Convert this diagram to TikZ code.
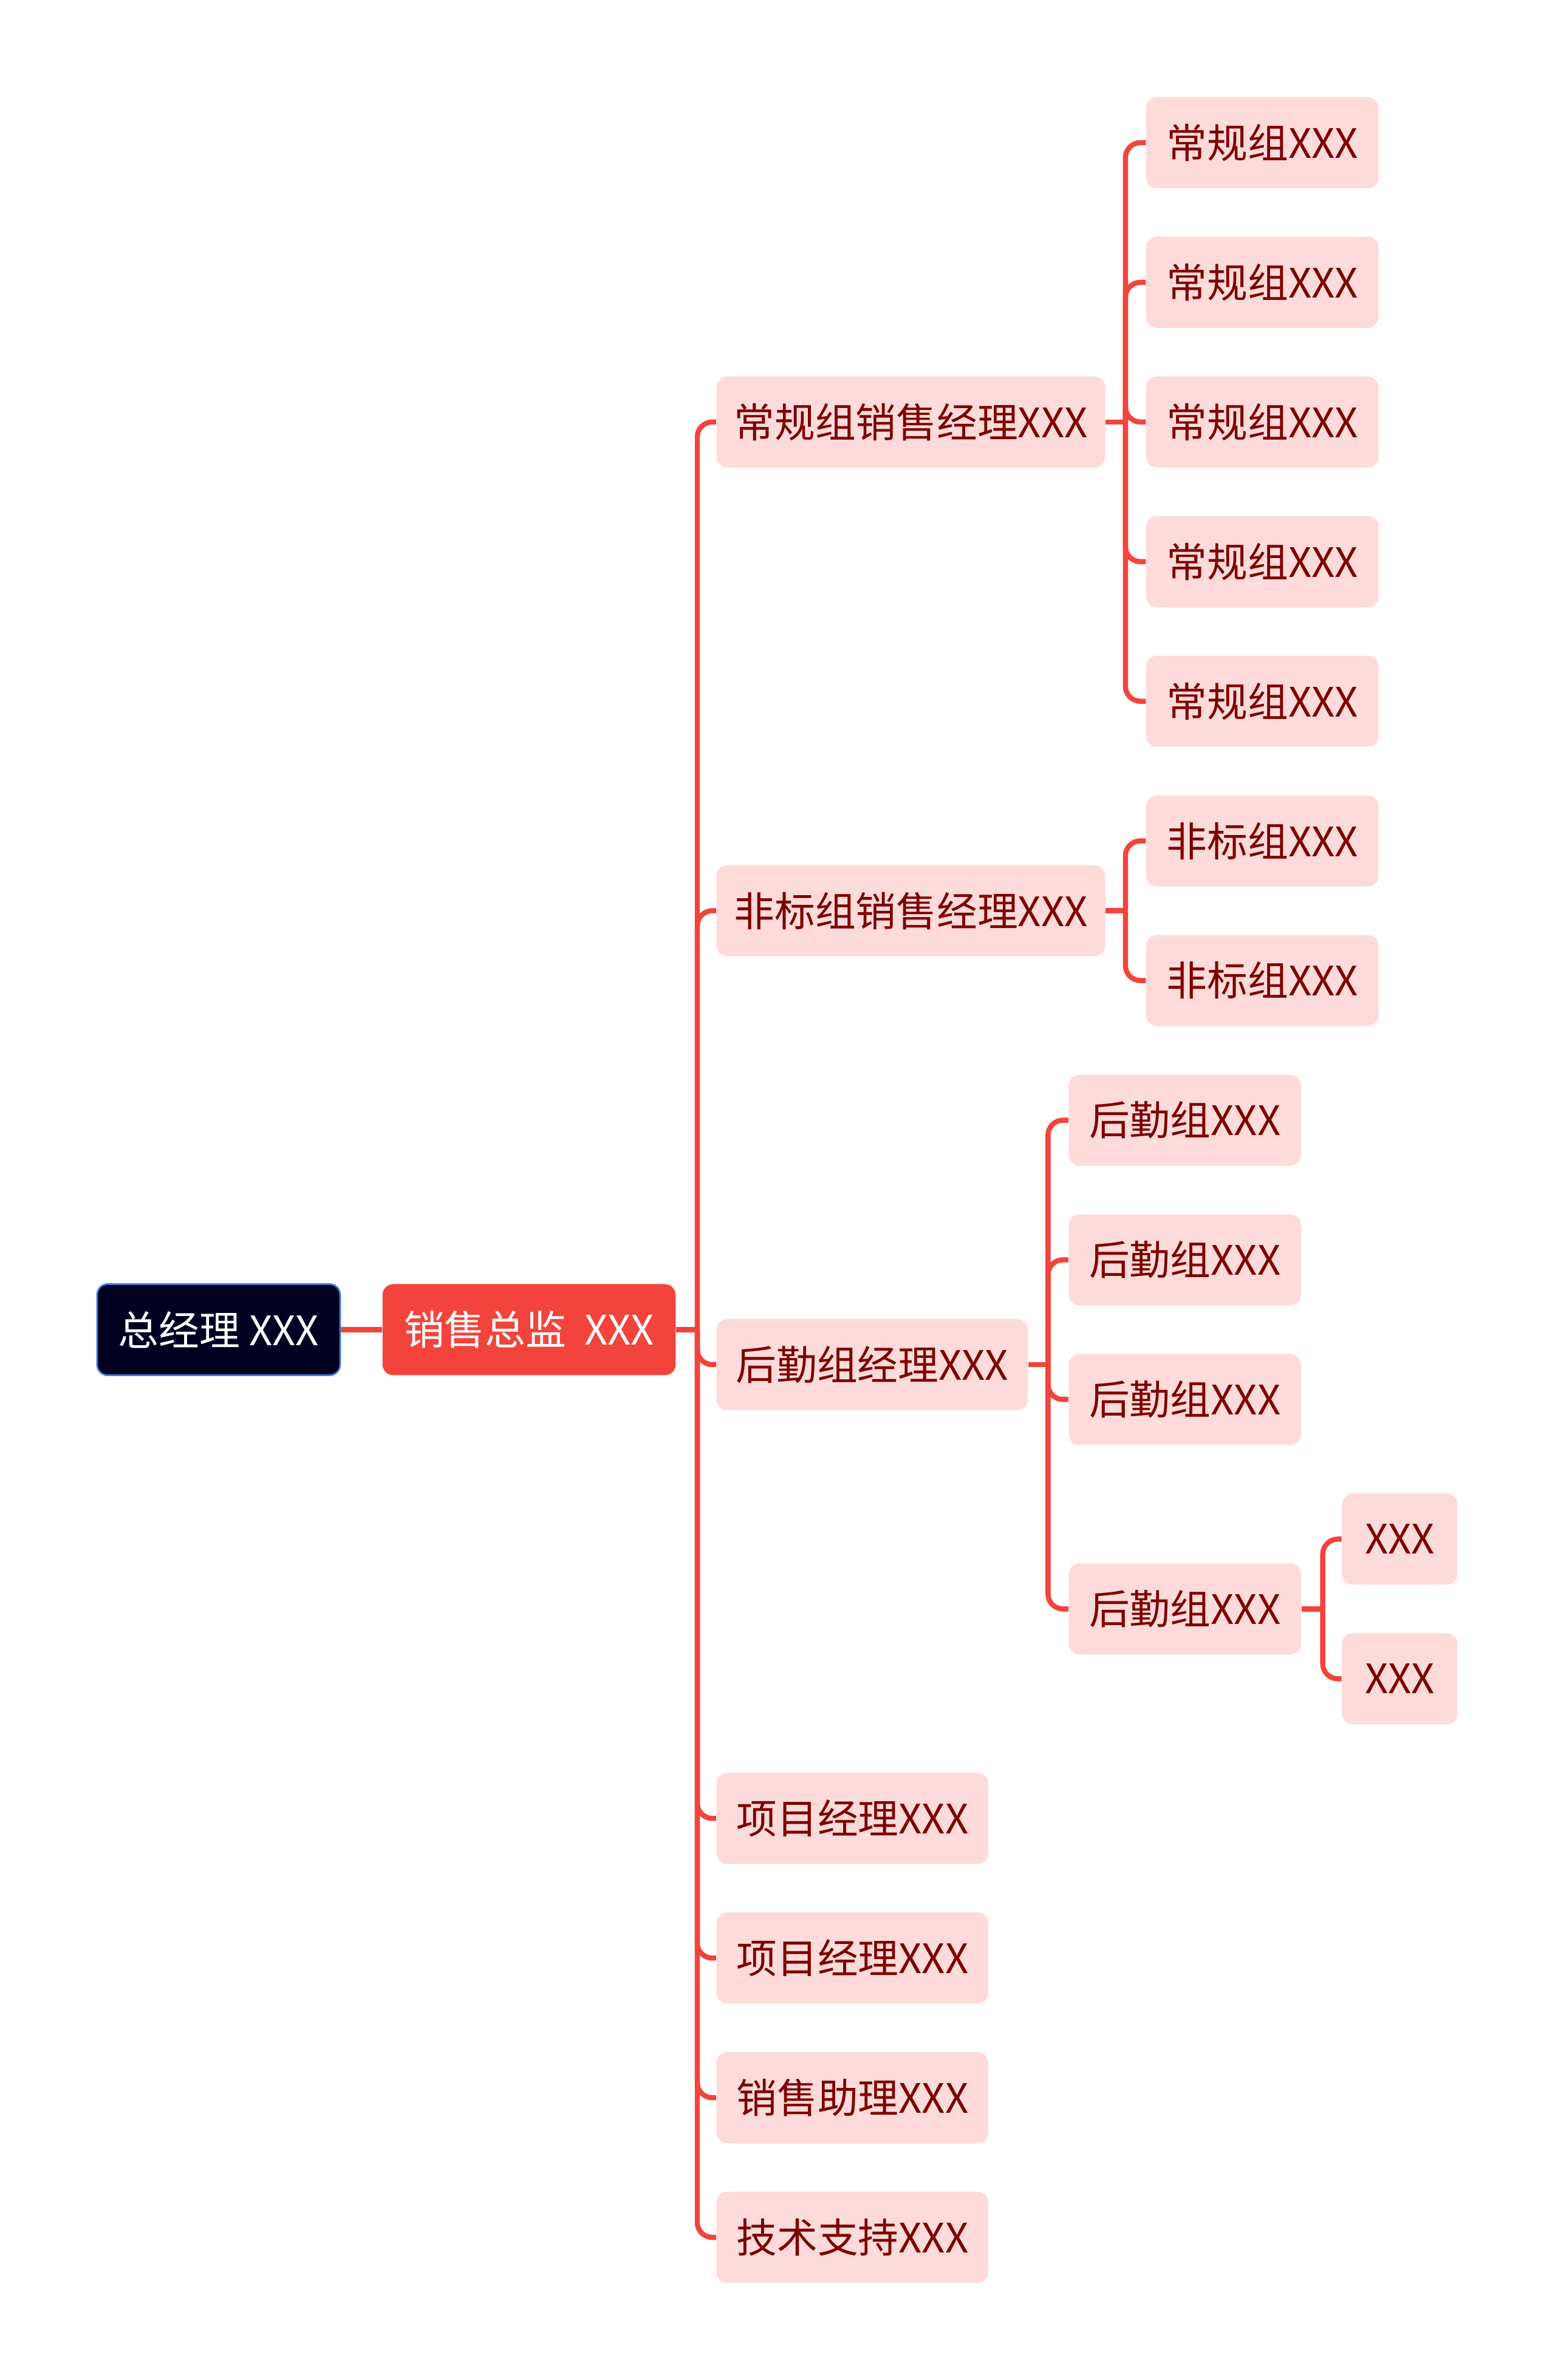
\documentclass[tikz,border=0pt]{standalone}
\usepackage{fontspec}
\newfontfamily\cjk{Noto Sans CJK SC}
\usetikzlibrary{calc}
\definecolor{TreeRed}{HTML}{F2443C}
\definecolor{NavyBox}{HTML}{000020}
\definecolor{NavyEdge}{HTML}{3A7BD8}
\definecolor{SoftPink}{HTML}{FDDBDA}
\definecolor{DeepRed}{HTML}{7D0000}

\begin{document}
\begin{tikzpicture}[x=0.025cm,y=-0.025cm,
  topbox/.style={draw=NavyEdge,line width=0.8pt,rounded corners=5pt,fill=NavyBox,text=white,minimum width=4cm,minimum height=1.5cm,inner sep=0pt,font=\cjk\fontsize{19pt}{23pt}\selectfont},
  headbox/.style={rounded corners=5pt,fill=TreeRed,text=white,minimum width=4.825cm,minimum height=1.5cm,inner sep=0pt,font=\cjk\fontsize{19pt}{23pt}\selectfont},
  pinkbox/.style={rounded corners=5pt,fill=SoftPink,text=DeepRed,minimum height=1.5cm,inner sep=0pt,font=\cjk\fontsize{19pt}{23pt}\selectfont},
  mgr/.style={pinkbox,minimum width=6.4cm},
  leaf/.style={pinkbox,minimum width=3.825cm},
  tiny/.style={pinkbox,minimum width=1.9cm},
  link/.style={draw=TreeRed,line width=2.4pt,rounded corners=7pt}
]
\useasboundingbox (0,0) rectangle (1024,1568);

\node[topbox] (gm) at (144,876) {总经理 XXX};
\node[headbox] (sd) at (348.5,876) {销售总监\ \ XXX};

\node[mgr] (m1) at (600,278) {常规组销售经理XXX};
\node[mgr] (m2) at (600,600) {非标组销售经理XXX};
\node[pinkbox,minimum width=5.125cm] (m3) at (574.5,899) {后勤组经理XXX};
\node[pinkbox,minimum width=4.475cm] (m4) at (561.5,1198) {项目经理XXX};
\node[pinkbox,minimum width=4.475cm] (m5) at (561.5,1290) {项目经理XXX};
\node[pinkbox,minimum width=4.475cm] (m6) at (561.5,1382) {销售助理XXX};
\node[pinkbox,minimum width=4.475cm] (m7) at (561.5,1474) {技术支持XXX};

\node[leaf] (r1) at (831.5,94) {常规组XXX};
\node[leaf] (r2) at (831.5,186) {常规组XXX};
\node[leaf] (r3) at (831.5,278) {常规组XXX};
\node[leaf] (r4) at (831.5,370) {常规组XXX};
\node[leaf] (r5) at (831.5,462) {常规组XXX};

\node[leaf] (f1) at (831.5,554) {非标组XXX};
\node[leaf] (f2) at (831.5,646) {非标组XXX};

\node[leaf] (h1) at (780.5,738) {后勤组XXX};
\node[leaf] (h2) at (780.5,830) {后勤组XXX};
\node[leaf] (h3) at (780.5,922) {后勤组XXX};
\node[leaf] (h4) at (780.5,1060) {后勤组XXX};

\node[tiny] (x1) at (922,1014) {XXX};
\node[tiny] (x2) at (922,1106) {XXX};

\coordinate (jsd) at ($(sd.east)+(14,0)$);
\coordinate (jm1) at ($(m1.east)+(13,0)$);
\coordinate (jm2) at ($(m2.east)+(13,0)$);
\coordinate (jm3) at ($(m3.east)+(13,0)$);
\coordinate (jh4) at ($(h4.east)+(14,0)$);

\draw[link] (gm) -- (sd);
\draw[link] (sd.east) -- (jsd);
\foreach \n in {m1,m2,m3,m4,m5,m6,m7}
  \draw[link] (jsd) |- (\n.west);
\draw[link] (m1.east) -- (jm1);
\foreach \n in {r1,r2,r3,r4,r5}
  \draw[link] (jm1) |- (\n.west);
\draw[link] (m2.east) -- (jm2);
\foreach \n in {f1,f2}
  \draw[link] (jm2) |- (\n.west);
\draw[link] (m3.east) -- (jm3);
\foreach \n in {h1,h2,h3,h4}
  \draw[link] (jm3) |- (\n.west);
\draw[link] (h4.east) -- (jh4);
\foreach \n in {x1,x2}
  \draw[link] (jh4) |- (\n.west);
\end{tikzpicture}
\end{document}
